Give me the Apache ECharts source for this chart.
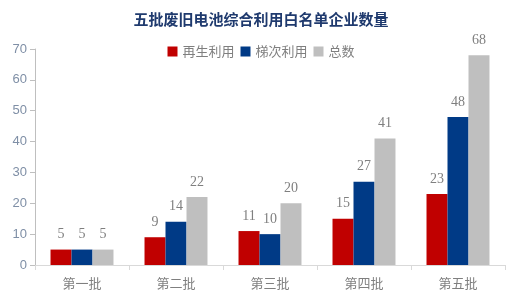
<!DOCTYPE html>
<html>
<head>
<meta charset="utf-8">
<script src="https://cdn.jsdelivr.net/npm/echarts@6/dist/echarts.min.js"></script>
<style>html,body{margin:0;padding:0;background:#fff}#chart1{width:522px;height:304px}</style>
</head>
<body>
<div id="chart1"></div>
<script>
// 类目与数据
var categories = ['第一批', '第二批', '第三批', '第四批', '第五批'];
var zaisheng = [5, 9, 11, 15, 23];
var tici = [5, 14, 10, 27, 48];
var zongshu = [5, 22, 20, 41, 68];
var seriesNames = ['再生利用', '梯次利用', '总数'];
var colors = ['#C00000', '#003A86', '#BFBFBF'];

var chart1 = echarts.init(document.getElementById('chart1'));

var labelStyle = {
    show: true,
    position: 'top',
    color: '#7F7F7F',
    fontSize: 14,
    fontFamily: 'Liberation Serif',
    distance: 8
};

var option = {
    animation: false,
    color: colors,
    title: {
        text: '五批废旧电池综合利用白名单企业数量',
        left: 'center',
        top: 7,
        textStyle: {
            color: '#1F3A6E',
            fontSize: 15,
            fontWeight: 'bold',
            fontFamily: 'Noto Sans CJK SC'
        }
    },
    legend: {
        top: 40,
        left: 'center',
        itemWidth: 10,
        itemHeight: 10,
        itemGap: 6,
        icon: 'rect',
        textStyle: {
            color: '#7F7F7F',
            fontSize: 13,
            fontFamily: 'Noto Sans CJK SC'
        },
        data: seriesNames
    },
    grid: {
        left: 35,
        right: 17,
        top: 49,
        bottom: 39
    },
    xAxis: {
        type: 'category',
        data: categories,
        axisLine: { lineStyle: { color: '#D9D9D9' } },
        axisTick: { show: true, alignWithLabel: false, length: 5, lineStyle: { color: '#D9D9D9' } },
        axisLabel: { color: '#7F7F7F', fontSize: 13, fontFamily: 'Noto Sans CJK SC', margin: 12 }
    },
    yAxis: {
        type: 'value',
        min: 0,
        max: 70,
        interval: 10,
        axisLine: { show: true, lineStyle: { color: '#BFBFBF' } },
        axisTick: { show: true, length: 5, lineStyle: { color: '#BFBFBF' } },
        splitLine: { show: false },
        axisLabel: { color: '#7F8FA6', fontSize: 13, fontFamily: 'Liberation Sans', margin: 8 }
    },
    series: [
        { name: seriesNames[0], type: 'bar', data: zaisheng, barGap: '0%', barCategoryGap: '33%', label: labelStyle },
        { name: seriesNames[1], type: 'bar', data: tici, barGap: '0%', barCategoryGap: '33%', label: labelStyle },
        { name: seriesNames[2], type: 'bar', data: zongshu, barGap: '0%', barCategoryGap: '33%', label: labelStyle }
    ]
};

chart1.setOption(option);
</script>
</body>
</html>
